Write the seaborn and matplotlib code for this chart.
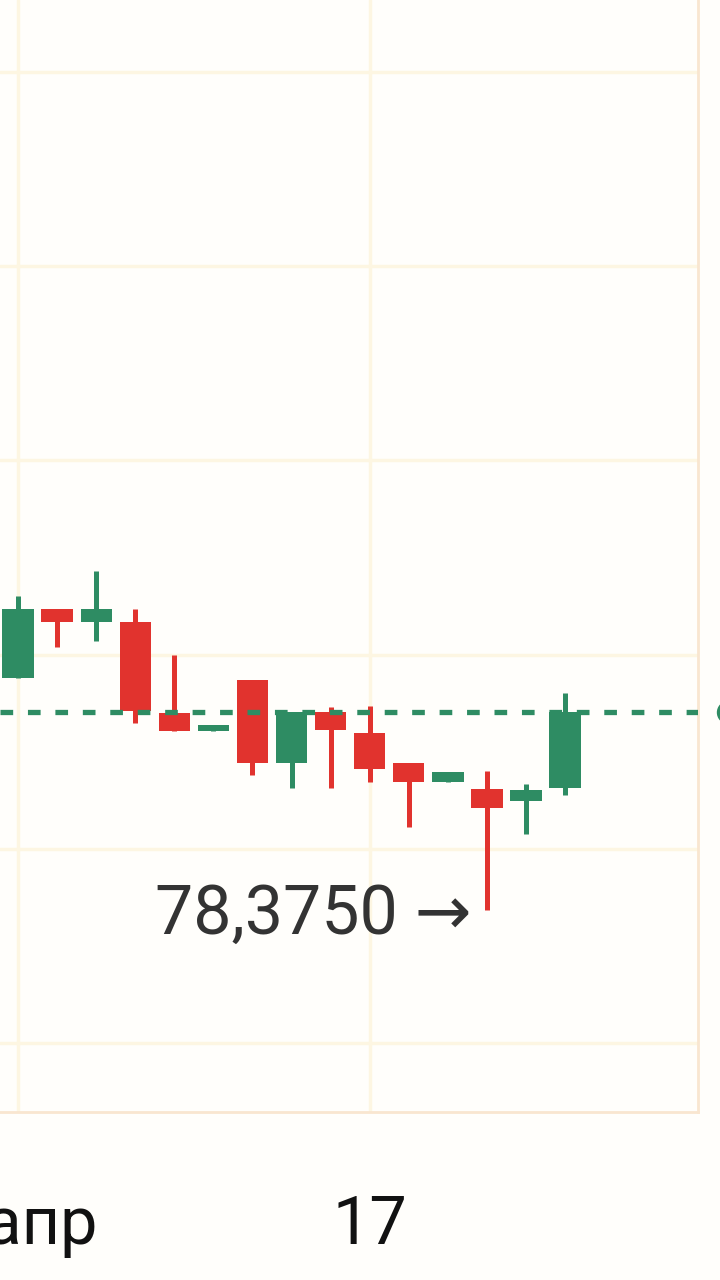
#!/usr/bin/env python

import numpy as np
import matplotlib.pyplot as plt
import matplotlib.transforms as mtransforms
import seaborn as sns

# hourly candles, 16-17 апр
opens = [78.852, 78.994, 78.967, 78.967, 78.780, 78.743, 78.848, 78.677,
         78.782, 78.739, 78.677, 78.638, 78.624, 78.599, 78.626]
highs = [79.021, 78.994, 79.072, 78.994, 78.899, 78.755, 78.848, 78.782,
         78.792, 78.794, 78.677, 78.659, 78.661, 78.634, 78.821]
lows = [78.852, 78.916, 78.928, 78.759, 78.743, 78.743, 78.652, 78.626,
        78.626, 78.638, 78.545, 78.638, 78.375, 78.531, 78.611]
closes = [78.994, 78.967, 78.994, 78.784, 78.743, 78.755, 78.677, 78.782,
          78.745, 78.665, 78.638, 78.659, 78.584, 78.621, 78.782]

tick_pos = [0, 9]
tick_labels = ["16 апр", "17"]
grid_levels = [78.1, 78.5, 78.9, 79.3, 79.7, 80.1]
low_label = "78,3750 →"

sns.set_theme(style="whitegrid")
plt.rcParams['font.family'] = ['Roboto', 'DejaVu Sans']

green = "#2E8C63"
red = "#E1332E"
bg = "#FFFEFB"
grid_col = "#FDF6E2"
edge = "#F9E6D0"

fig = plt.figure(figsize=(7.2, 12.8), dpi=100, facecolor=bg)
ax = fig.add_axes([0, 168 / 1280, 698 / 720, 1112 / 1280])
ax.set_facecolor(bg)

x = np.arange(len(opens))
o = np.array(opens)
c = np.array(closes)
colors = np.where(c >= o, green, red)

# wicks and bodies
ax.vlines(x, lows, highs, colors=colors, linewidth=3.6, zorder=3)
body_low = np.minimum(o, c)
body_h = np.maximum(np.abs(c - o), 0.012)
ax.bar(x, body_h, bottom=body_low, width=0.8, color=colors, linewidth=0, zorder=4)

# last price line + dot
ax.axhline(closes[-1], color=green, lw=3.8, dashes=(2.4, 2.8), zorder=5)
ax.plot([18.17], [closes[-1]], "o", ms=15.8, color=green, clip_on=False, zorder=6)

# min label
low_i = int(np.argmin(lows))
ax.annotate(low_label, xy=(low_i, lows[low_i]), xytext=(-11, -4),
            textcoords="offset points", ha="right", va="center",
            fontsize=49, color="#333333")

ax.set_xlim(-0.4607, 17.40)
ax.set_ylim(77.9586, 80.2478)
ax.set_yticks(grid_levels)
ax.set_yticklabels([])
ax.set_xticks(tick_pos)
ax.set_xticklabels(tick_labels, fontsize=48, color="#111111")
ax.tick_params(axis="both", length=0)
ax.tick_params(axis="x", pad=59)
ax.grid(True, color=grid_col, lw=2.5)

first = ax.get_xticklabels()[0]
first.set_ha("right")
first.set_transform(first.get_transform() +
                    mtransforms.ScaledTranslation(0.79, 0, fig.dpi_scale_trans))

for side in ["left", "top"]:
    ax.spines[side].set_visible(False)
for side in ["right", "bottom"]:
    ax.spines[side].set_color(edge)
    ax.spines[side].set_linewidth(2)

fig.savefig("out.png", dpi=100, facecolor=bg)
